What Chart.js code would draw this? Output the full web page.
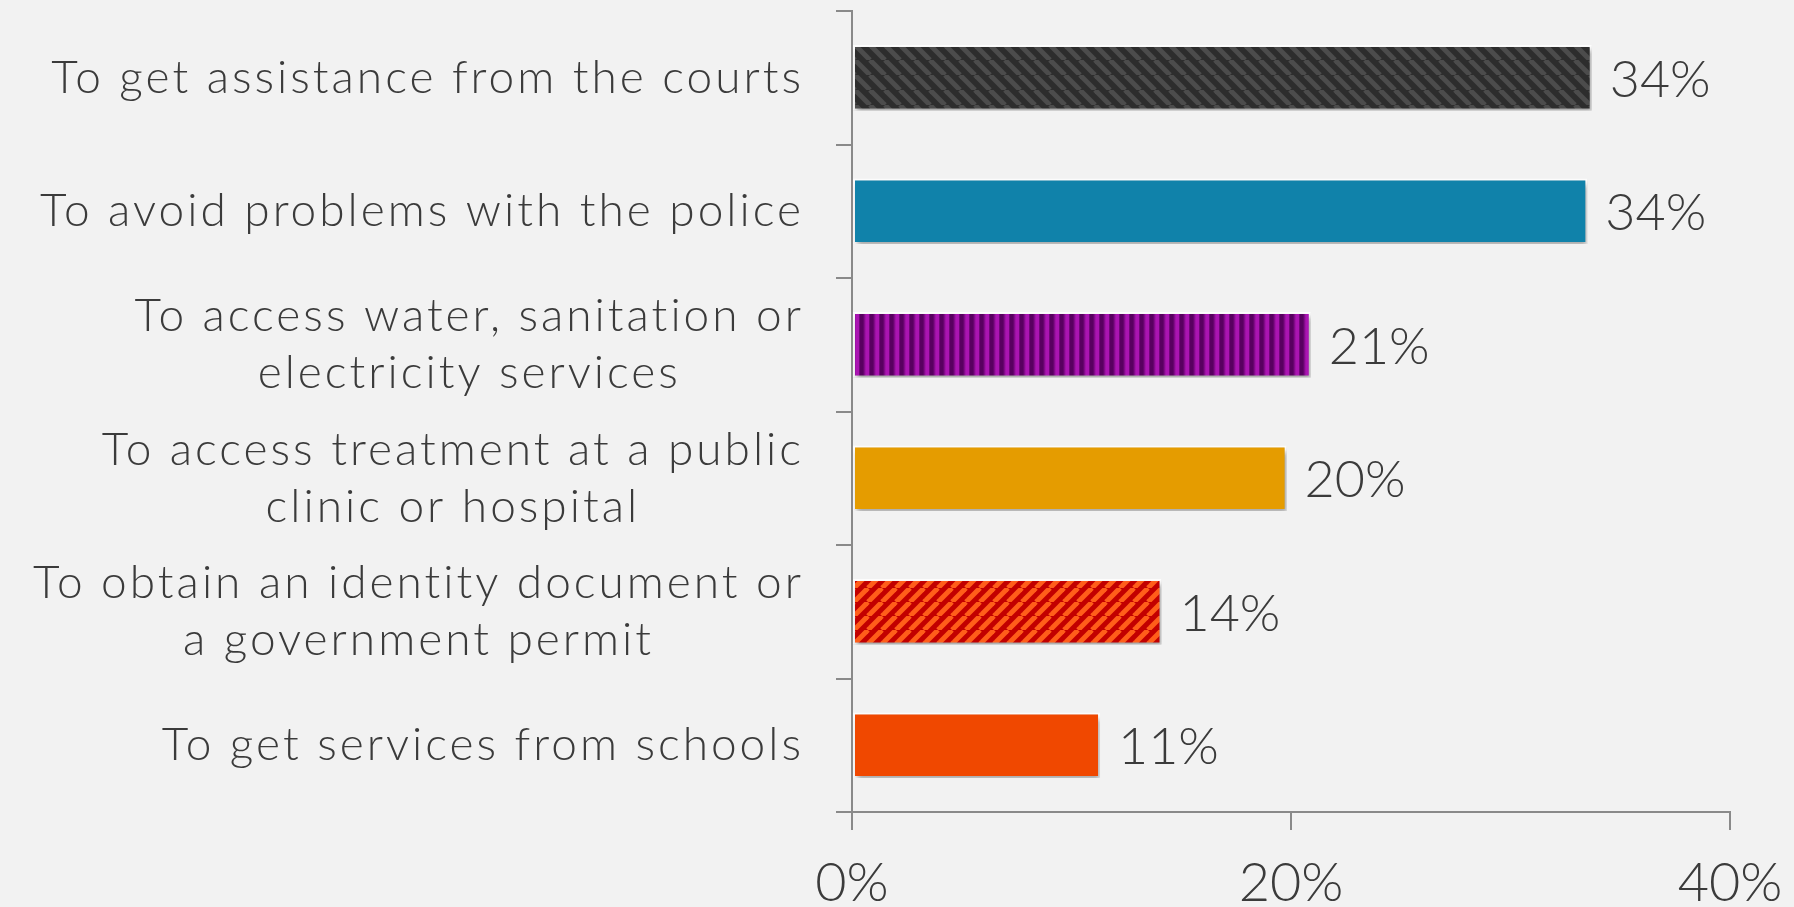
<!DOCTYPE html>
<html>
<head>
<meta charset="utf-8">
<title>Reasons for paying bribes</title>
<script src="https://cdn.jsdelivr.net/npm/chart.js@4.4.1/dist/chart.umd.min.js"></script>
<style>
  html, body { margin: 0; padding: 0; background: #f2f2f2; }
  #wrap { width: 1794px; height: 907px; position: relative; }
</style>
</head>
<body>
<div id="wrap"><canvas id="chart" width="1794" height="907"></canvas></div>
<script>
const categories = [
  'To get assistance from the courts',
  'To avoid problems with the police',
  ['To access water, sanitation or', 'electricity services'],
  ['To access treatment at a public', 'clinic or hospital'],
  ['To obtain an identity document or', 'a government permit'],
  'To get services from schools'
];
const shares = [33.7, 33.5, 20.9, 19.8, 14.1, 11.3];
const xTicks = [0, 20, 40];

const FONT = 'Lato, "Open Sans", sans-serif';
const TEXT = '#3b3b3b';
const AXIS = '#8a8a8a';

// striped fills
function stripes(bg, fg, size, width, dir) {
  const c = document.createElement('canvas');
  c.width = size; c.height = size;
  const g = c.getContext('2d');
  g.fillStyle = bg;
  g.fillRect(0, 0, size, size);
  g.strokeStyle = fg;
  g.lineWidth = width;
  for (const x0 of [-size, 0, size]) {
    g.beginPath();
    if (dir === 'down') { g.moveTo(x0, 0); g.lineTo(x0 + size, size); }
    else { g.moveTo(x0, size); g.lineTo(x0 + size, 0); }
    g.stroke();
  }
  return g.createPattern(c, 'repeat');
}

function verticalStripes(dark, light, period) {
  const c = document.createElement('canvas');
  c.width = period; c.height = 4;
  const g = c.getContext('2d');
  const grad = g.createLinearGradient(0, 0, period, 0);
  grad.addColorStop(0, dark);
  grad.addColorStop(0.3, dark);
  grad.addColorStop(0.6, light);
  grad.addColorStop(0.85, light);
  grad.addColorStop(1, dark);
  g.fillStyle = grad;
  g.fillRect(0, 0, period, 4);
  return g.createPattern(c, 'repeat');
}

const fills = [
  stripes('#2d2d2d', '#4c4c4c', 15, 5, 'down'),
  '#1082aa',
  verticalStripes('#580060', '#aa14b2', 10),
  '#e59c00',
  stripes('#c20000', '#ff5e1a', 14, 5, 'up'),
  '#f04800'
];

// soft shadow under the bars
const barShadow = {
  id: 'barShadow',
  beforeDatasetsDraw(chart) {
    const ctx = chart.ctx;
    ctx.save();
    ctx.shadowColor = 'rgba(0,0,0,0.35)';
    ctx.shadowBlur = 5;
    ctx.shadowOffsetX = 2;
    ctx.shadowOffsetY = 4;
  },
  afterDatasetsDraw(chart) {
    chart.ctx.restore();
  }
};

// category labels: block right-aligned, lines centred within the block
const categoryLabels = {
  id: 'categoryLabels',
  afterDraw(chart) {
    const ctx = chart.ctx;
    const y = chart.scales.y;
    const right = y.right - 48;
    const lh = 57;
    ctx.save();
    ctx.font = '300 46px ' + FONT;
    ctx.letterSpacing = '3px';
    ctx.fillStyle = TEXT;
    ctx.textBaseline = 'middle';
    ctx.textAlign = 'center';
    categories.forEach((lab, i) => {
      const lines = Array.isArray(lab) ? lab : [lab];
      const w = Math.max(...lines.map(l => ctx.measureText(l).width));
      const cy = y.getPixelForTick(i);
      lines.forEach((l, k) => {
        ctx.fillText(l, right - w / 2, cy + (k - (lines.length - 1) / 2) * lh);
      });
    });
    ctx.restore();
  }
};

// value labels at bar ends
const valueLabels = {
  id: 'valueLabels',
  afterDatasetsDraw(chart) {
    const ctx = chart.ctx;
    const meta = chart.getDatasetMeta(0);
    ctx.save();
    ctx.font = '300 52px ' + FONT;
    ctx.fillStyle = TEXT;
    ctx.textBaseline = 'middle';
    ctx.textAlign = 'left';
    meta.data.forEach((bar, i) => {
      ctx.fillText(Math.round(shares[i]) + '%', bar.x + 18, bar.y + 2);
    });
    ctx.restore();
  }
};

new Chart(document.getElementById('chart'), {
  type: 'bar',
  data: {
    labels: categories,
    datasets: [{
      data: shares,
      backgroundColor: fills,
      borderColor: 'rgba(255,255,255,0.85)',
      borderWidth: 2,
      borderSkipped: false,
      categoryPercentage: 1,
      barPercentage: 0.49
    }]
  },
  options: {
    indexAxis: 'y',
    responsive: false,
    animation: false,
    layout: { padding: { top: 11, right: 64, left: 0, bottom: 0 } },
    plugins: { legend: { display: false }, tooltip: { enabled: false } },
    scales: {
      x: {
        min: 0,
        max: 40,
        afterBuildTicks(scale) { scale.ticks = xTicks.map(v => ({ value: v })); },
        afterFit(scale) { scale.height = 95; },
        border: { color: AXIS, width: 2 },
        grid: { drawOnChartArea: false, color: AXIS, lineWidth: 2, tickLength: 18 },
        ticks: {
          color: TEXT,
          font: { family: FONT, size: 54, weight: 300, lineHeight: 1.6 },
          padding: 10,
          callback: v => v + '%'
        }
      },
      y: {
        afterFit(scale) { scale.width = 852; },
        border: { color: AXIS, width: 2 },
        grid: { drawOnChartArea: false, color: AXIS, lineWidth: 2, tickLength: 16, offset: true },
        ticks: { display: false }
      }
    }
  },
  plugins: [barShadow, valueLabels, categoryLabels]
});
</script>
</body>
</html>
